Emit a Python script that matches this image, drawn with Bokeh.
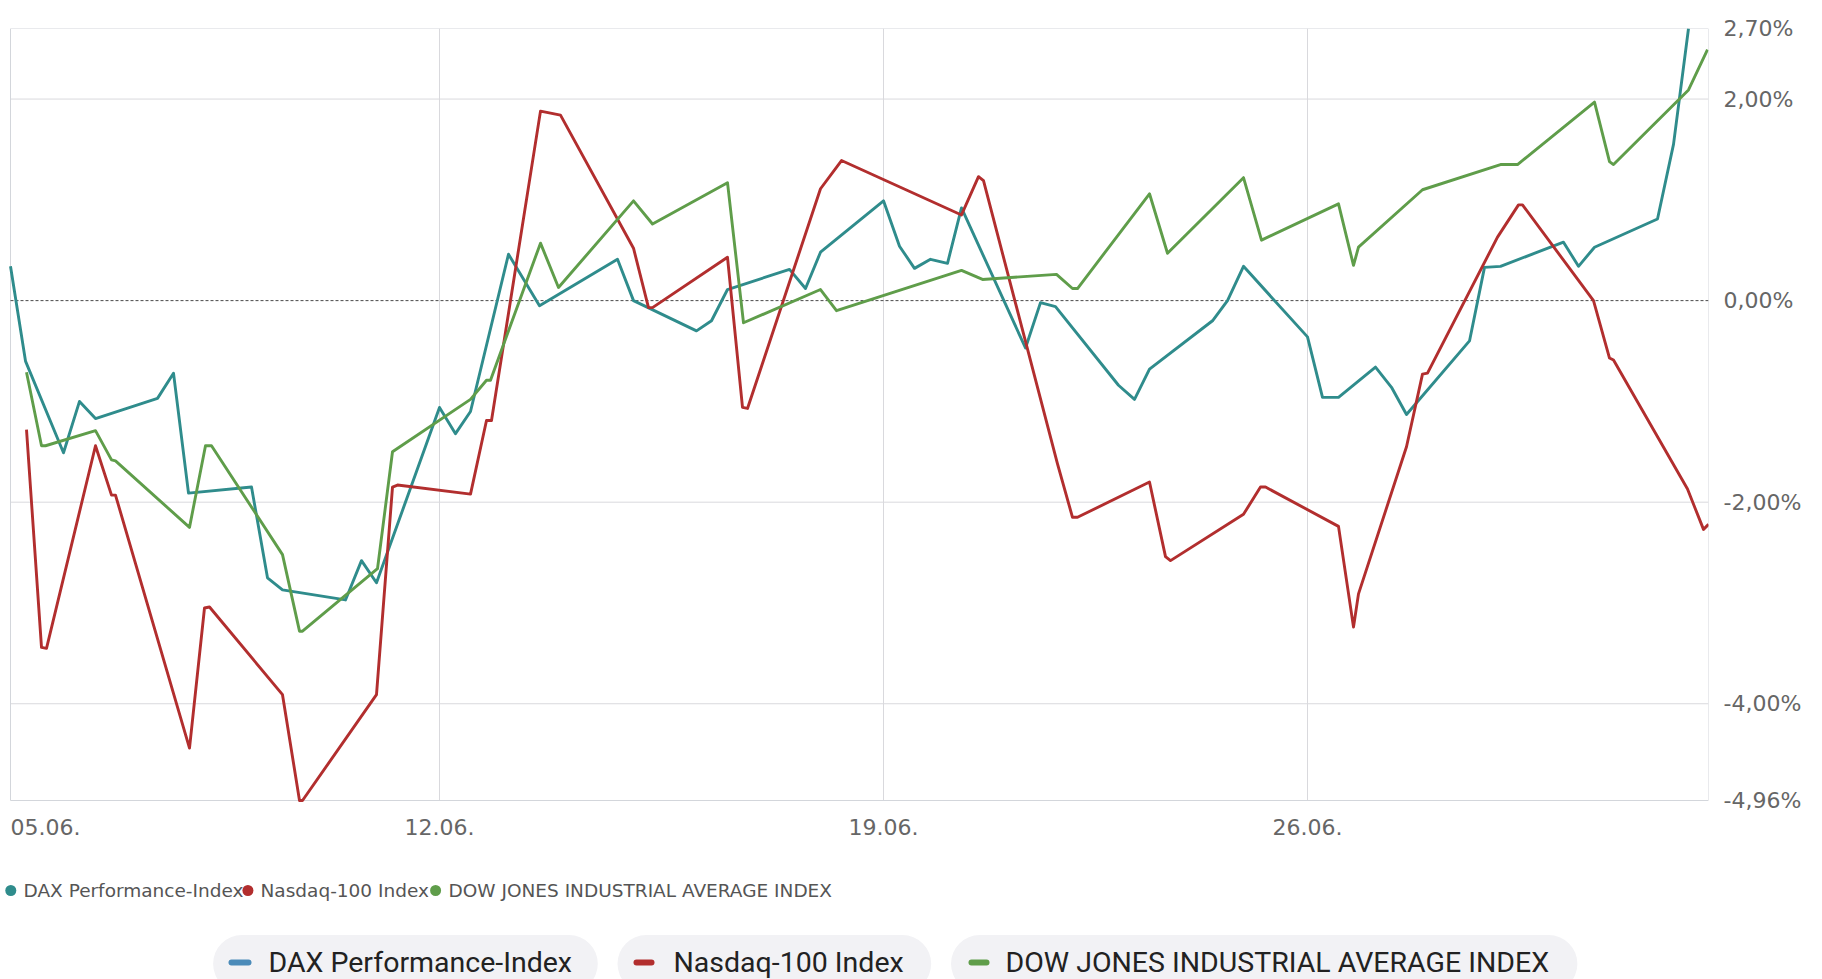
from bokeh.plotting import figure
from bokeh.models import ColumnDataSource, Range1d, FixedTicker, CustomJSTickFormatter
from bokeh.core.properties import value
from bokeh.embed import file_html
from bokeh.resources import INLINE

# ---------------- data (ordinal time position, % change) ----------------
series_names = ["DAX Performance-Index", "Nasdaq-100 Index", "DOW JONES INDUSTRIAL AVERAGE INDEX"]
series_colors = ["#2f8c8c", "#b22e2e", "#5f9d4a"]
legend_dash_colors = ["#4b8bb9", "#b22e2e", "#5f9d4a"]

dax_x = [0.0, 1.5, 5.3, 6.9, 8.5, 14.7, 16.3, 17.8, 24.1, 25.7, 27.2, 33.5, 35.1, 36.6, 42.9,
         44.5, 46.0, 49.8, 52.9, 60.7, 62.3, 68.6, 70.1, 71.7, 77.9, 79.5, 81.0, 87.3, 88.9,
         90.4, 92.0, 93.7, 95.1, 101.5, 103.0, 104.5, 110.8, 112.4, 113.9, 120.2, 121.7, 123.3,
         129.7, 131.2, 132.8, 136.5, 138.1, 139.6, 145.9, 147.4, 149.0, 155.3, 156.8, 158.4,
         164.7, 166.3, 167.8]
dax_y = [0.34, -0.60, -1.51, -1.00, -1.17, -0.97, -0.72, -1.91, -1.85, -2.75, -2.87, -2.97,
         -2.58, -2.80, -1.06, -1.32, -1.10, 0.46, -0.05, 0.41, 0.00, -0.30, -0.20, 0.11, 0.31,
         0.12, 0.48, 0.99, 0.54, 0.32, 0.41, 0.37, 0.92, -0.47, -0.02, -0.06, -0.84, -0.98,
         -0.68, -0.20, 0.00, 0.34, -0.36, -0.96, -0.96, -0.66, -0.86, -1.13, -0.40, 0.33, 0.34,
         0.58, 0.34, 0.53, 0.81, 1.55, 2.70]

ndx_x = [1.6, 3.1, 3.6, 8.5, 10.1, 10.5, 17.9, 19.4, 19.9, 27.2, 28.9, 29.2, 36.6, 38.2, 38.7,
         46.0, 47.6, 48.1, 53.0, 55.0, 62.3, 63.8, 64.2, 71.7, 73.2, 73.7, 81.0, 83.1, 95.1,
         96.8, 97.3, 104.7, 106.2, 106.7, 113.9, 115.5, 116.0, 123.3, 125.0, 125.5, 132.8,
         134.3, 134.8, 139.6, 141.2, 141.7, 148.7, 150.8, 151.2, 158.3, 159.9, 160.3, 167.7,
         169.3, 169.8]
ndx_y = [-1.28, -3.44, -3.45, -1.44, -1.93, -1.93, -4.44, -3.05, -3.04, -3.91, -4.96, -4.96,
         -3.91, -1.85, -1.83, -1.92, -1.19, -1.19, 1.88, 1.84, 0.52, -0.07, -0.07, 0.43, -1.06,
         -1.07, 1.11, 1.39, 0.85, 1.23, 1.19, -1.62, -2.15, -2.15, -1.80, -2.54, -2.58, -2.12,
         -1.85, -1.85, -2.24, -3.24, -2.91, -1.45, -0.73, -0.72, 0.63, 0.95, 0.95, 0.00, -0.57,
         -0.59, -1.87, -2.27, -2.22]

dow_x = [1.6, 3.1, 3.5, 8.5, 10.1, 10.5, 17.9, 19.5, 20.1, 27.2, 28.9, 29.2, 36.7, 38.2, 46.0,
         47.6, 48.0, 53.0, 54.8, 62.3, 64.2, 71.7, 73.3, 81.0, 82.6, 95.1, 97.2, 104.6, 106.2,
         106.7, 113.9, 115.7, 123.3, 125.1, 132.8, 134.3, 134.8, 141.2, 149.0, 150.7, 158.4,
         159.9, 160.3, 167.8, 169.7]
dow_y = [-0.71, -1.44, -1.44, -1.29, -1.58, -1.59, -2.25, -1.44, -1.44, -2.52, -3.28, -3.28,
         -2.66, -1.50, -0.98, -0.79, -0.79, 0.57, 0.13, 0.99, 0.76, 1.17, -0.22, 0.11, -0.10,
         0.30, 0.21, 0.26, 0.12, 0.12, 1.06, 0.47, 1.22, 0.60, 0.96, 0.35, 0.53, 1.10, 1.35,
         1.35, 1.97, 1.38, 1.35, 2.09, 2.49]

date_labels = ["05.06.", "12.06.", "19.06.", "26.06."]
date_pos = [0.0, 42.9, 87.3, 129.7]
y_ticks = [-4.96, -4.0, -2.0, 0.0, 2.0, 2.70]
grid_y = [-4.0, -2.0, 2.0]
x_min, x_max = 0.0, 169.8
y_min, y_max = -4.96, 2.70

# ---------------- layout (page pixels) ----------------
W, H = 1822, 979
PLOT_L, PLOT_R, PLOT_T, PLOT_B = 10, 1708, 28, 800
AXIS_FONT = "DejaVu Sans"
AXIS_COLOR = "#666666"
GRID_COLOR = "#d9d9dd"
BOX_COLOR = "#d3d6db"

# the frame covers the plot box plus the strip below it (for dates and legends)
kx = (PLOT_R - PLOT_L) / (x_max - x_min)
ky = (PLOT_B - PLOT_T) / (y_max - y_min)
x_range = Range1d(x_min - PLOT_L / kx, x_max)
y_range = Range1d(y_min - (H - PLOT_B) / ky, y_max)

p = figure(width=W, height=H, output_backend="svg", toolbar_location=None,
           x_range=x_range, y_range=y_range, x_axis_location=None,
           y_axis_location="right", min_border_left=0, min_border_right=W - PLOT_R,
           min_border_top=PLOT_T, min_border_bottom=0)
p.extra_x_ranges = {"page": Range1d(0, PLOT_R)}
p.extra_y_ranges = {"page": Range1d(H, PLOT_T)}
p.outline_line_color = None
p.grid.visible = False
p.background_fill_color = "white"
p.border_fill_color = "white"

# right y axis
p.yaxis.ticker = FixedTicker(ticks=y_ticks)
p.yaxis.formatter = CustomJSTickFormatter(code="""
    return tick.toFixed(2).replace('.', ',') + '%';
""")
p.yaxis.axis_line_color = None
p.yaxis.major_tick_line_color = None
p.yaxis.minor_tick_line_color = None
p.yaxis.major_label_standoff = 9
p.yaxis.major_label_text_font = AXIS_FONT
p.yaxis.major_label_text_font_size = "22px"
p.yaxis.major_label_text_color = AXIS_COLOR

# grid lines and plot box
p.segment(x0=date_pos[1:], y0=[y_min] * 3, x1=date_pos[1:], y1=[y_max] * 3,
          line_color=GRID_COLOR, line_width=1)
p.segment(x0=[x_min] * len(grid_y), y0=grid_y, x1=[x_max] * len(grid_y), y1=grid_y,
          line_color=GRID_COLOR, line_width=1)
p.quad(left=[x_min], right=[x_max], bottom=[y_min], top=[y_max], fill_color=None,
       line_color=BOX_COLOR, line_width=1)
# zero line
p.segment(x0=[x_min], y0=[0.0], x1=[x_max], y1=[0.0], line_color="#4a4a4a",
          line_dash="3 2", line_width=1)

# series
for xs, ys, col in [(dax_x, dax_y, series_colors[0]),
                    (ndx_x, ndx_y, series_colors[1]),
                    (dow_x, dow_y, series_colors[2])]:
    src = ColumnDataSource(dict(x=xs, y=ys))
    p.line("x", "y", source=src, line_color=col, line_width=2.9, line_join="round")

# date labels (x axis)
p.text(x=date_pos[:1], y=[826], y_range_name="page", text=date_labels[:1],
       text_font=value(AXIS_FONT), text_font_size="22px", text_color=AXIS_COLOR,
       text_align="left", text_baseline="middle")
p.text(x=date_pos[1:], y=[826] * 3, y_range_name="page", text=date_labels[1:],
       text_font=value(AXIS_FONT), text_font_size="22px", text_color=AXIS_COLOR,
       text_align="center", text_baseline="middle")

# small legend
p.scatter(x=[10.3, 247.4, 435.1], y=[890] * 3, x_range_name="page", y_range_name="page",
          size=11, marker="circle", fill_color=series_colors, line_color=None)
p.text(x=[23, 260, 448], y=[890] * 3, x_range_name="page", y_range_name="page",
       text=series_names, text_font=value(AXIS_FONT), text_font_size="18.5px",
       text_color="#555555", text_baseline="middle", text_align="left")

# big legend (pills)
p.quad(left=[212.6, 617, 950.5], right=[597.3, 930.7, 1576.9], top=[934.5] * 3,
       bottom=[992] * 3, x_range_name="page", y_range_name="page",
       fill_color="#f2f2f5", line_color=None, border_radius=30)
p.segment(x0=[231, 636, 971], y0=[962] * 3, x1=[248, 651, 986], y1=[962] * 3,
          x_range_name="page", y_range_name="page",
          line_color=legend_dash_colors, line_width=6, line_cap="round")
p.text(x=[268, 673, 1005], y=[962] * 3, x_range_name="page", y_range_name="page",
       text=series_names, text_font=value("Roboto"), text_font_size="28.5px",
       text_color="#222222", text_baseline="middle", text_align="left")

open("out.html", "w").write(file_html(p, INLINE))
